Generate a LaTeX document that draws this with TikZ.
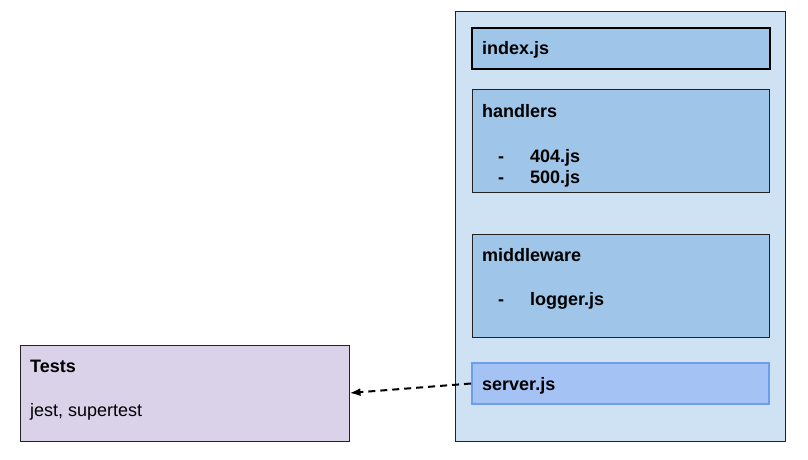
\documentclass[tikz,border=0pt]{standalone}
\usepackage{fontspec}
\setmainfont{Liberation Sans}
\usetikzlibrary{arrows.meta}
\definecolor{outerfill}{HTML}{CFE2F3}
\definecolor{innerfill}{HTML}{9FC5E8}
\definecolor{srvfill}{HTML}{A4C2F4}
\definecolor{srvline}{HTML}{6D9EEB}
\definecolor{testfill}{HTML}{D9D2E9}
\definecolor{dark}{HTML}{222222}
\begin{document}
\begin{tikzpicture}[x=1pt,y=-1pt,
  box/.style={draw=dark,line width=1pt},
  lbl/.style={anchor=base west,inner sep=0pt,font=\fontsize{18}{21}\selectfont\bfseries},
  plain/.style={anchor=base west,inner sep=0pt,font=\fontsize{18}{21}\selectfont}]
\useasboundingbox (0,0) rectangle (808,460);
\fill[white] (0,0) rectangle (808,460);
% outer container
\draw[box,fill=outerfill] (455,12) rectangle (785,441);
\coordinate (outer) at (455,12);
% index.js
\draw[draw=black,line width=2pt,fill=innerfill] (472,28) rectangle (770,69);
\node[lbl] (idx) at (482,55) {index.js};
% handlers
\draw[box,fill=innerfill] (472,89) rectangle (769,192);
\node[lbl] (hnd) at (482,117) {handlers};
\node[lbl] (d1) at (498,162) {-};
\node[lbl] (h404) at (530,162) {404.js};
\node[lbl] (d2) at (498,183) {-};
\node[lbl] (h500) at (530,183) {500.js};
% middleware
\draw[box,fill=innerfill] (472,234) rectangle (769,337);
\node[lbl] (mw) at (482,261) {middleware};
\node[lbl] (d3) at (498,305) {-};
\node[lbl] (lg) at (530,305) {logger.js};
% server.js
\node[draw=srvline,line width=2pt,fill=srvfill,minimum width=297pt,minimum height=41pt,inner sep=0pt] (srv) at (620.5,383.5) {};
\node[lbl] (srvt) at (482,390) {server.js};
% Tests
\node[box,fill=testfill,minimum width=329pt,minimum height=96pt,inner sep=0pt] (tests) at (184.5,393) {};
\node[lbl] (tt) at (30,372) {Tests};
\node[plain] (tj) at (30,416) {jest, supertest};
% connector
\draw[line width=2pt,dash pattern=on 7pt off 5pt,-{Latex[length=11pt,width=8pt]}] (srv.west) -- (tests.east);
\end{tikzpicture}
\end{document}
